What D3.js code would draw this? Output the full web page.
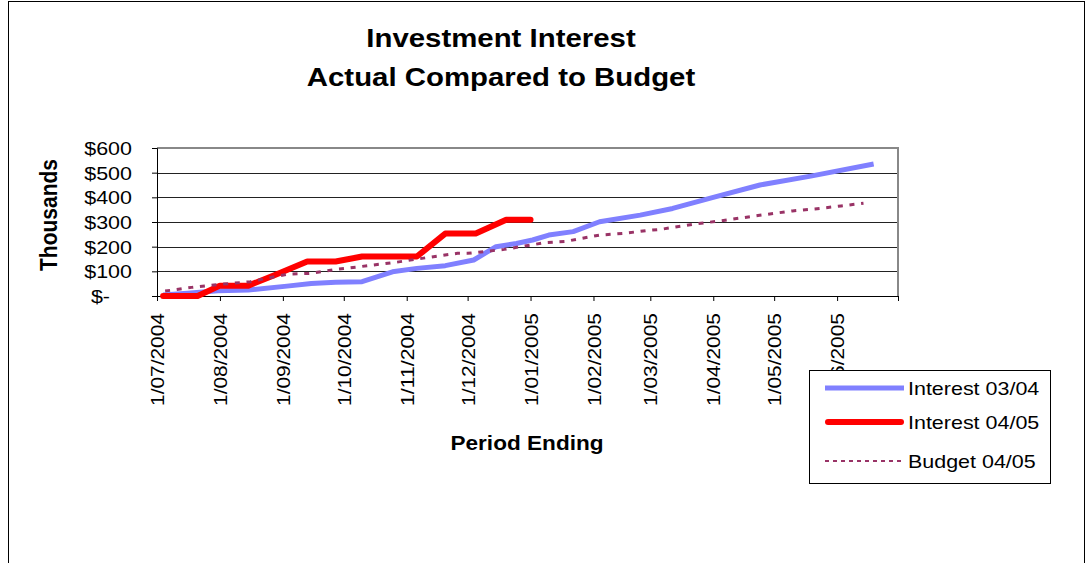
<!DOCTYPE html>
<html>
<head>
<meta charset="utf-8">
<script src="https://cdn.jsdelivr.net/npm/d3@7"></script>
<style>
body{margin:0;background:#fff;}
text{font-family:"Liberation Sans",Arial,sans-serif;fill:#000;}
</style>
</head>
<body>
<svg></svg>
<script>
// values in thousands of dollars
var yTicks = [0,100,200,300,400,500,600];
var xDomain = ["2004-07-01","2005-07-01"];
var seriesNames = ["Interest 03/04","Interest 04/05","Budget 04/05"];

var interest0304Dates = ["2004-07-04","2004-07-16","2004-07-31","2004-08-15","2004-09-03","2004-09-15",
  "2004-09-27","2004-10-10","2004-10-25","2004-11-06","2004-11-20","2004-12-04","2004-12-15",
  "2004-12-25","2005-01-02","2005-01-10","2005-01-22","2005-02-04","2005-02-24","2005-03-12",
  "2005-04-01","2005-04-24","2005-05-19","2005-06-19"];
var interest0304 = [4,11,21,24,40,51,56,58,98,112,123,146,200,213,227,247,261,301,328,355,400,450,486,535];

var interest0405Dates = ["2004-07-04","2004-07-21","2004-08-01","2004-08-15","2004-08-29","2004-09-13",
  "2004-09-27","2004-10-10","2004-11-06","2004-11-20","2004-12-05","2004-12-20","2005-01-01"];
var interest0405 = [0,0,42,42,88,140,140,160,160,253,253,309,309];

var budget0405Dates = ["2004-07-05","2004-07-18","2004-07-29","2004-08-16","2004-09-03","2004-09-15",
  "2004-09-27","2004-10-09","2004-10-27","2004-11-12","2004-11-26","2004-12-01","2004-12-19",
  "2005-01-08","2005-01-18","2005-02-04","2005-02-16","2005-02-27","2005-03-06","2005-03-23",
  "2005-04-04","2005-04-23","2005-05-10","2005-05-21","2005-06-03","2005-06-14"];
var budget0405 = [20,35,45,58,88,92,108,119,137,157,173,173,189,216,221,247,254,265,270,292,
  304,326,345,353,365,376];

start();

function start(){
  var parse = d3.timeParse("%Y-%m-%d");
  function pts(dates, vals){
    return dates.map(function(d,i){ return {date: parse(d), value: vals[i]}; });
  }
  var series = [
    {name: seriesNames[0], data: pts(interest0304Dates, interest0304), color: "#8080ff", width: 5, dash: null, cap: "butt"},
    {name: seriesNames[1], data: pts(interest0405Dates, interest0405), color: "#ff0000", width: 6, dash: null, cap: "round"},
    {name: seriesNames[2], data: pts(budget0405Dates, budget0405), color: "#993366", width: 3, dash: "5,6.7", cap: "butt"}
  ];
  graph(series, parse);
}

function graph(series, parse){
  var width = 1090;
  var height = 563;
  var wide = 1.13; // the original text is a little stretched sideways
  var plot = {left: 157, right: 898, top: 148, bottom: 296};

  var svg = d3.select("svg")
              .attr("width",width)
              .attr("height",height);

  svg.append("rect")
     .attr("x",8.5).attr("y",1.5)
     .attr("width",1076).attr("height",600)
     .attr("fill","#fff")
     .attr("stroke","#000");

  var x = d3.scaleTime()
            .domain(xDomain.map(parse))
            .range([plot.left, plot.right]);
  var y = d3.scaleLinear()
            .domain([0,600])
            .range([plot.bottom, plot.top]);

  // title
  svg.append("text")
     .attr("transform","translate(501,47) scale("+wide+",1)")
     .attr("text-anchor","middle")
     .style("font-size","26px").style("font-weight","bold")
     .text("Investment Interest");
  svg.append("text")
     .attr("transform","translate(501,86) scale("+wide+",1)")
     .attr("text-anchor","middle")
     .style("font-size","26px").style("font-weight","bold")
     .text("Actual Compared to Budget");

  // gridlines
  svg.append("g")
     .selectAll("line")
     .data(yTicks.slice(1,-1))
     .enter()
     .append("line")
     .attr("x1",plot.left).attr("x2",plot.right)
     .attr("y1",function(d){ return Math.round(y(d))+0.5; })
     .attr("y2",function(d){ return Math.round(y(d))+0.5; })
     .attr("stroke","#222")
     .attr("stroke-width",1);

  // plot border (top and right are grey)
  svg.append("path")
     .attr("d","M"+plot.left+","+plot.top+"H"+plot.right+"V"+plot.bottom)
     .attr("fill","none")
     .attr("stroke","#888")
     .attr("stroke-width",2);

  // y axis
  var yAxis = svg.append("g")
     .attr("transform","translate("+plot.left+",0)")
     .call(d3.axisLeft(y)
             .tickValues(yTicks)
             .tickSize(5)
             .tickFormat(function(d){ return d==0 ? "$-" : "$"+d; }));
  yAxis.select(".domain").attr("stroke","#000");
  yAxis.selectAll(".tick line").attr("stroke","#000");
  yAxis.selectAll(".tick text")
       .attr("x",0)
       .attr("dy","0.35em")
       .attr("transform",function(d){
         return "translate("+(d==0 ? -47 : -25)+",0) scale("+wide+",1)";
       })
       .style("font-size","19px")
       .style("font-family","'Liberation Sans',Arial,sans-serif");

  // x axis, the last month gets a tick but no label
  var lastDate = parse(xDomain[1]);
  var fmt = d3.timeFormat("%-d/%m/%Y");
  var xAxis = svg.append("g")
     .attr("transform","translate(0,"+plot.bottom+")")
     .call(d3.axisBottom(x)
             .ticks(d3.timeMonth.every(1))
             .tickSize(5)
             .tickFormat(function(d){ return +d==+lastDate ? "" : fmt(d); }));
  xAxis.select(".domain").attr("stroke","#000");
  xAxis.selectAll(".tick line").attr("stroke","#000");
  xAxis.selectAll(".tick text")
       .attr("x",-17)
       .attr("y",0)
       .attr("dy","0.35em")
       .attr("text-anchor","end")
       .attr("transform","rotate(-90)")
       .attr("textLength",function(d){ return +d==+lastDate ? null : 93; })
       .attr("lengthAdjust","spacingAndGlyphs")
       .style("font-size","18.7px")
       .style("font-family","'Liberation Sans',Arial,sans-serif");

  // axis titles
  svg.append("text")
     .attr("transform","translate(57,215) rotate(-90) scale(1,"+wide+")")
     .attr("text-anchor","middle")
     .style("font-size","21px").style("font-weight","bold")
     .text("Thousands");
  svg.append("text")
     .attr("transform","translate(527,450) scale("+wide+",1)")
     .attr("text-anchor","middle")
     .style("font-size","20px").style("font-weight","bold")
     .text("Period Ending");

  // series lines
  var line = d3.line()
               .x(function(d){ return x(d.date); })
               .y(function(d){ return y(d.value); });

  svg.append("g")
     .selectAll("path")
     .data(series)
     .enter()
     .append("path")
     .attr("d",function(d){ return line(d.data); })
     .attr("fill","none")
     .attr("stroke",function(d){ return d.color; })
     .attr("stroke-width",function(d){ return d.width; })
     .attr("stroke-dasharray",function(d){ return d.dash; })
     .attr("stroke-linecap",function(d){ return d.cap; })
     .attr("stroke-linejoin","round");

  // legend
  var legend = svg.append("g");
  legend.append("rect")
        .attr("x",809.5).attr("y",370.5)
        .attr("width",241).attr("height",113)
        .attr("fill","#fff")
        .attr("stroke","#000");
  var rows = legend.selectAll("g.row")
        .data(series)
        .enter()
        .append("g")
        .attr("class","row")
        .attr("transform",function(d,i){ return "translate(0,"+[388,422,461][i]+")"; });
  rows.append("line")
      .attr("x1",function(d){ return d.cap=="round" ? 828 : 825; })
      .attr("x2",function(d){ return d.cap=="round" ? 901 : 904; })
      .attr("y1",0).attr("y2",0)
      .attr("stroke",function(d){ return d.color; })
      .attr("stroke-width",function(d){ return d.dash ? 2 : d.width; })
      .attr("stroke-dasharray",function(d){ return d.dash ? "4,4" : null; })
      .attr("stroke-linecap",function(d){ return d.cap; });
  rows.append("text")
      .attr("transform","translate(908,7) scale("+wide+",1)")
      .style("font-size","19px")
      .text(function(d){ return d.name; });
}
</script>
</body>
</html>
